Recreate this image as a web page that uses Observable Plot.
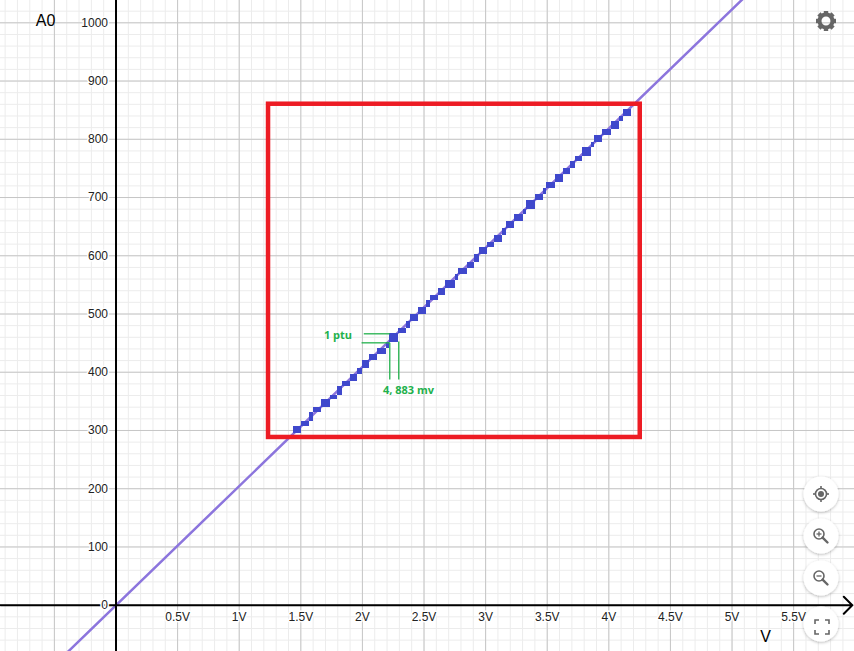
<!DOCTYPE html>
<html>
<head>
<meta charset="utf-8">
<script src="https://cdn.jsdelivr.net/npm/d3@7"></script>
<script src="https://cdn.jsdelivr.net/npm/@observablehq/plot@0.6"></script>
<style>
  html, body { margin: 0; padding: 0; background: #fff; }
  #chart svg { display: block; }
</style>
</head>
<body>
<div id="chart"></div>
<script>
// ---- data ----
const xTicks = [0.5, 1, 1.5, 2, 2.5, 3, 3.5, 4, 4.5, 5, 5.5];
const xTickLabels = ["0.5V", "1V", "1.5V", "2V", "2.5V", "3V", "3.5V", "4V", "4.5V", "5V", "5.5V"];
const yTicks = [0, 100, 200, 300, 400, 500, 600, 700, 800, 900, 1000];
const yTickLabels = ["0", "100", "200", "300", "400", "500", "600", "700", "800", "900", "1000"];

// transfer line A0 = 1023/5 * V (end points, clipped by the frame)
const lineV = [-0.4, 5.1];
const lineA = [-82, 1043.5];

// quantisation staircase (corner points of the blue blocks)
const stairV = [1.443, 1.503, 1.571, 1.601, 1.668, 1.741, 1.800, 1.838, 1.903, 1.960,
  1.998, 2.060, 2.125, 2.196, 2.222, 2.295, 2.358, 2.390, 2.455, 2.520,
  2.553, 2.618, 2.674, 2.756, 2.780, 2.853, 2.910, 2.950, 3.015, 3.072,
  3.137, 3.170, 3.235, 3.308, 3.332, 3.405, 3.470, 3.494, 3.567, 3.632,
  3.689, 3.730, 3.787, 3.860, 3.884, 3.949, 4.022, 4.087, 4.119, 4.184];
const stairA = [295.3, 306.8, 315.4, 330.4, 339.5, 352.7, 360.6, 376.0, 384.6, 396.6,
  405.9, 420.7, 431.0, 441.3, 450.5, 466.5, 475.6, 487.1, 499.1, 511.2,
  523.7, 531.8, 543.8, 557.5, 567.8, 578.1, 588.9, 602.7, 614.2, 622.8,
  634.8, 647.3, 658.8, 671.4, 679.4, 694.9, 705.2, 716.0, 726.3, 739.5,
  750.3, 762.4, 770.4, 785.9, 794.5, 806.5, 816.8, 830.5, 839.6, 851.1];

// red zoom box
const boxV = [1.238, 4.255];
const boxA = [288.0, 860.2];

// green annotation ("1 ptu" / "4, 883 mv")
const annSegments = [
  {x1: 2.011, y1: 466.0, x2: 2.222, y2: 466.0},
  {x1: 1.993, y1: 450.5, x2: 2.222, y2: 450.5},
  {x1: 2.222, y1: 450.5, x2: 2.222, y2: 387.5},
  {x1: 2.295, y1: 452.8, x2: 2.295, y2: 387.5}
];
const annTexts = [
  {x: 1.802, y: 463.1, label: "1 ptu"},
  {x: 2.374, y: 368.6, label: "4, 883 mv"}
];

const xAxisTitle = {x: 5.272, y: -53.7, label: "V"};
const yAxisTitle = {x: -0.572, y: 1004, label: "A0"};

// ---- build ----
const xDomain = [-0.9375, 5.994];
const yDomain = [-79.5, 1038.3];
const minorX = d3.range(-9, 60).map(i => i / 10);
const minorY = d3.range(-3, 52).map(i => i * 20);
const majorX = d3.range(-1, 12).map(i => i / 2);

const steps = stairV.slice(0, -1).map((v, i) => ({
  x1: v, x2: stairV[i + 1], y1: stairA[i], y2: stairA[i + 1]
}));
const lineData = lineV.map((v, i) => ({v, a: lineA[i]}));

const font = "Liberation Sans, Arial, sans-serif";

const plot = Plot.plot({
  width: 854,
  height: 651,
  margin: 0,
  x: {domain: xDomain, axis: null},
  y: {domain: yDomain, axis: null},
  style: {background: "#fff", fontFamily: font},
  marks: [
    Plot.ruleX(minorX, {stroke: "#ececec", strokeWidth: 1}),
    Plot.ruleY(minorY, {stroke: "#ececec", strokeWidth: 1}),
    Plot.ruleX(majorX, {stroke: "#c6c6c6", strokeWidth: 1}),
    Plot.ruleY(yTicks, {stroke: "#c6c6c6", strokeWidth: 1}),
    Plot.line(lineData, {x: "v", y: "a", stroke: "#8c75dd", strokeWidth: 2.5, clip: true}),
    Plot.rect(steps, {x1: "x1", x2: "x2", y1: "y1", y2: "y2", fill: "#3f48cc", shapeRendering: "crispEdges"}),
    Plot.rect([{x1: boxV[0], x2: boxV[1], y1: boxA[0], y2: boxA[1]}],
      {x1: "x1", x2: "x2", y1: "y1", y2: "y2", fill: "none", stroke: "#ed1c24", strokeWidth: 4.5}),
    Plot.link(annSegments, {x1: "x1", y1: "y1", x2: "x2", y2: "y2", stroke: "#22b14c", strokeWidth: 1.3}),
    Plot.text(annTexts, {x: "x", y: "y", text: "label", fill: "#22b14c", fontSize: 11, fontWeight: "bold",
      fontFamily: "Open Sans, DejaVu Sans, sans-serif"}),
    Plot.ruleX([0], {stroke: "#000", strokeWidth: 2}),
    Plot.arrow([{x1: xDomain[0], y1: 0, x2: 5.976, y2: 0}],
      {x1: "x1", y1: "y1", x2: "x2", y2: "y2", stroke: "#000", strokeWidth: 2, headLength: 9, headAngle: 90}),
    Plot.text(xTicks, {x: d => d, y: 0, dy: 12, text: (d, i) => xTickLabels[i], fill: "#222", fontSize: 12,
      fontFamily: font, stroke: "#fff", strokeWidth: 3, paintOrder: "stroke"}),
    Plot.text(yTicks, {x: 0, y: d => d, dx: -8, textAnchor: "end", text: (d, i) => yTickLabels[i], fill: "#222",
      fontSize: 12, fontFamily: font, stroke: "#fff", strokeWidth: 3, paintOrder: "stroke"}),
    Plot.text([xAxisTitle, yAxisTitle], {x: "x", y: "y", text: "label", fill: "#000", fontSize: 16, fontFamily: font})
  ]
});

document.getElementById("chart").appendChild(plot);

// ---- Desmos-like UI chrome (decoration) ----
const svg = d3.select(plot);
const defs = svg.append("defs");
const f = defs.append("filter").attr("id", "btnShadow").attr("x", "-50%").attr("y", "-50%").attr("width", "200%").attr("height", "200%");
f.append("feDropShadow").attr("dx", 0).attr("dy", 1).attr("stdDeviation", 1.6).attr("flood-color", "#000").attr("flood-opacity", 0.28);

const ui = svg.append("g");
// gear
const gear = ui.append("g").attr("transform", "translate(826,21)");
gear.append("circle").attr("r", 6.5).attr("fill", "none").attr("stroke", "#666").attr("stroke-width", 4);
[0, 45, 90, 135, 180, 225, 270, 315].forEach(a =>
  gear.append("rect").attr("x", -2.2).attr("y", -10).attr("width", 4.4).attr("height", 4.5).attr("fill", "#666")
    .attr("transform", `rotate(${a})`));

const btnY = [494, 536, 578, 624];
btnY.forEach(cy => {
  ui.append("circle").attr("cx", 821).attr("cy", cy).attr("r", 17.5).attr("fill", "#fff").attr("filter", "url(#btnShadow)");
});
const g1 = ui.append("g").attr("transform", "translate(821,494)").attr("stroke", "#666").attr("fill", "none");
g1.append("circle").attr("r", 5.5).attr("stroke-width", 1.6);
g1.append("circle").attr("r", 3).attr("fill", "#666").attr("stroke", "none");
[[0,-8,0,-5.5],[0,5.5,0,8],[-8,0,-5.5,0],[5.5,0,8,0]].forEach(s =>
  g1.append("line").attr("x1", s[0]).attr("y1", s[1]).attr("x2", s[2]).attr("y2", s[3]).attr("stroke-width", 1.6));

function magnifier(cy, plus) {
  const g = ui.append("g").attr("transform", `translate(821,${cy})`).attr("stroke", "#666").attr("fill", "none");
  g.append("circle").attr("cx", -2).attr("cy", -2).attr("r", 5).attr("stroke-width", 1.6);
  g.append("line").attr("x1", 1.6).attr("y1", 1.6).attr("x2", 6.5).attr("y2", 6.5).attr("stroke-width", 2.4).attr("stroke-linecap", "round");
  g.append("line").attr("x1", -4.5).attr("y1", -2).attr("x2", 0.5).attr("y2", -2).attr("stroke-width", 1.3);
  if (plus) g.append("line").attr("x1", -2).attr("y1", -4.5).attr("x2", -2).attr("y2", 0.5).attr("stroke-width", 1.3);
}
magnifier(536, true);
magnifier(578, false);

const g4 = ui.append("g").attr("transform", "translate(822,627)").attr("stroke", "#666").attr("fill", "none").attr("stroke-width", 1.6);
["M-7,-3 V-7 H-3", "M3,-7 H7 V-3", "M7,3 V7 H3", "M-3,7 H-7 V3"].forEach(d => g4.append("path").attr("d", d));
</script>
</body>
</html>
